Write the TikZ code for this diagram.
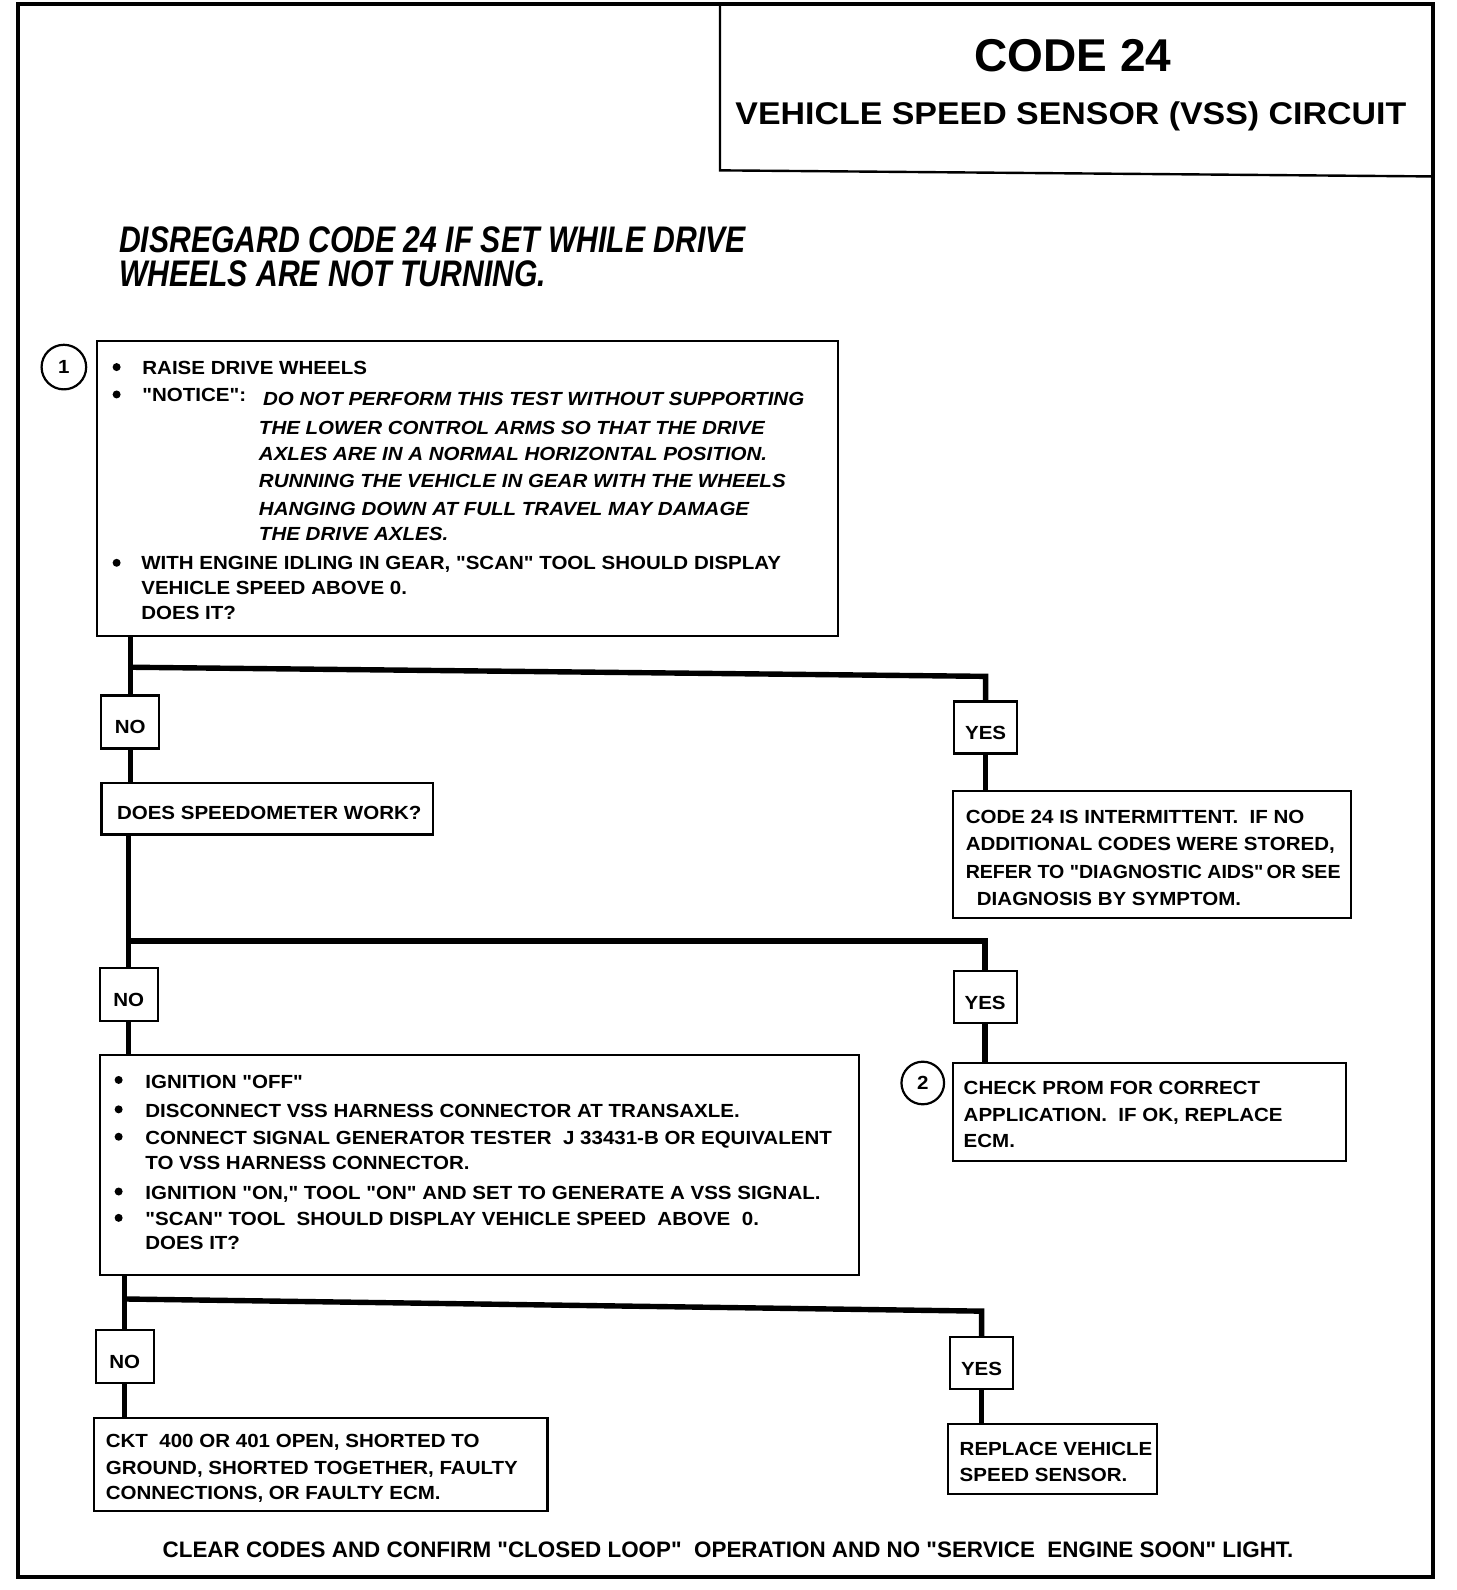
\documentclass[tikz,border=0pt]{standalone}
\usepackage{fontspec}
\setmainfont{Liberation Sans}
\newfontfamily\bodyf[FakeStretch=1.08]{Liberation Sans}
\newfontfamily\bodyn[FakeStretch=1.03]{Liberation Sans}
\newfontfamily\plainf{Liberation Sans}
\newfontfamily\discf[FakeStretch=0.815]{Liberation Sans}
\usetikzlibrary{fit}
\tikzset{
  box/.style={draw, line width=1.1pt, inner sep=0pt},
  yn/.style={draw, line width=1.1pt, inner sep=0pt, text height=11.8pt, text depth=0pt, font=\bodyf\bfseries\fontsize{9.5}{11}\selectfont},
  nobox/.style={yn, minimum width=29pt, minimum height=26.4pt},
  yesbox/.style={yn, minimum width=31.5pt, minimum height=26pt},
  conn/.style={line width=2.7pt, line join=miter},
  txt/.style={anchor=base west, inner sep=0pt, font=\bodyf\bfseries\fontsize{9.5}{11}\selectfont},
  itx/.style={anchor=base west, inner sep=0pt, font=\bodyf\bfseries\itshape\fontsize{9.5}{11}\selectfont},
  num/.style={circle, draw, line width=1.1pt, inner sep=0pt, font=\bodyf\bfseries\fontsize{9.5}{11}\selectfont},
  bul/.style={circle, fill, inner sep=0pt, minimum size=4pt}
}
\begin{document}
\begin{tikzpicture}[x=0.50696pt,y=-0.50696pt]
\useasboundingbox (0,0) rectangle (1436,1568);
% outer frame and title box
\draw[line width=2pt] (18,4) rectangle (1413,1555);
\draw[line width=1.2pt] (710,4) -- (710,168) -- (1413,174);
\node[anchor=base, inner sep=0pt, font=\plainf\bfseries\fontsize{23}{26}\selectfont] (title) at (1058,71) {CODE 24};
\node[anchor=base, inner sep=0pt, font=\bodyf\bfseries\fontsize{15.7}{18}\selectfont] (subtitle) at (1056,123) {VEHICLE SPEED SENSOR (VSS) CIRCUIT};
\node[anchor=base west, inner sep=0pt, font=\discf\bfseries\itshape\fontsize{18.5}{21}\selectfont] (disc1) at (117,249) {DISREGARD CODE 24 IF SET WHILE DRIVE};
\node[anchor=base west, inner sep=0pt, font=\discf\bfseries\itshape\fontsize{18.5}{21}\selectfont] (disc2) at (117,283) {WHEELS ARE NOT TURNING.};

% boxes
\node[box, fit={(96,336) (826,627)}] (b1) {};
\node[num, minimum size=22.3pt] (c1) at (63,362) {1};
\node[nobox] (no1) at (128.5,712) {NO};
\node[yesbox] (yes1) at (972,717.5) {YES};
\node[box, fit={(100,772) (427,823)}] (spd) {};
\node[box, fit={(940,780) (1332,905)}] (r1) {};
\node[nobox] (no2) at (127,981) {NO};
\node[yesbox] (yes2) at (971.5,983.5) {YES};
\node[box, fit={(99,1040) (847,1257)}] (b3) {};
\node[box, fit={(940,1048) (1327,1145)}] (r2) {};
\node[num, minimum size=21.3pt] (c2) at (910,1068) {2};
\node[nobox] (no3) at (123,1337.5) {NO};
\node[yesbox] (yes3) at (968,1344.5) {YES};
\node[box, fit={(93,1398) (540,1490)}] (r3) {};
\node[box, fit={(935,1404) (1141,1473)}] (r4) {};

% connectors
\coordinate (h1l) at (0,658);
\coordinate (h1r) at (0,667);
\coordinate (h2) at (0,928);
\coordinate (h3l) at (0,1281);
\coordinate (h3r) at (0,1293);
\draw[conn] (b1.south -| no1) -- (no1.north);
\draw[conn] (no1 |- h1l) -- (yes1 |- h1r) -- (yes1.north);
\draw[conn] (no1.south) -- (spd.north -| no1);
\draw[conn] (yes1.south) -- (r1.north -| yes1);
\draw[conn] (spd.south -| no2) -- (no2.north);
\draw[conn] (no2 |- h2) -| (yes2.north);
\draw[conn] (no2.south) -- (b3.north -| no2);
\draw[conn] (yes2.south) -- (r2.north -| yes2);
\draw[conn] (b3.south -| no3) -- (no3.north);
\draw[conn] (no3 |- h3l) -- (yes3 |- h3r) -- (yes3.north);
\draw[conn] (no3.south) -- (r3.north -| no3);
\draw[conn] (yes3.south) -- (r4.north -| yes3);

% box 1 text
\node[bul] (p1) at (115,362) {};
\node[txt] (t1a) at (140,369) {RAISE DRIVE WHEELS};
\node[bul] (p2) at (115,389) {};
\node[txt] (t1b) at (140,396) {"NOTICE":};
\node[itx] (t1c) at (259,400) {DO NOT PERFORM THIS TEST WITHOUT SUPPORTING};
\node[itx] (t1d) at (255,428) {THE LOWER CONTROL ARMS SO THAT THE DRIVE};
\node[itx] (t1e) at (255,454) {AXLES ARE IN A NORMAL HORIZONTAL POSITION.};
\node[itx] (t1f) at (255,481) {RUNNING THE VEHICLE IN GEAR WITH THE WHEELS};
\node[itx] (t1g) at (255,508) {HANGING DOWN AT FULL TRAVEL MAY DAMAGE};
\node[itx] (t1h) at (255,533) {THE DRIVE AXLES.};
\node[bul] (p3) at (115,555) {};
\node[txt] (t1i) at (139,562) {WITH ENGINE IDLING IN GEAR, "SCAN" TOOL SHOULD DISPLAY};
\node[txt] (t1j) at (139,586) {VEHICLE SPEED ABOVE 0.};
\node[txt] (t1k) at (139,611) {DOES IT?};

% speedometer
\node[txt] (ts) at (115,808) {DOES SPEEDOMETER WORK?};

% yes1 result
\node[txt] (tr1a) at (952,812) {CODE 24 IS INTERMITTENT.\ \ IF NO};
\node[txt] (tr1b) at (952,839) {ADDITIONAL CODES WERE STORED,};
\node[txt, font=\bodyn\bfseries\fontsize{9.5}{11}\selectfont] (tr1c) at (952,866) {REFER TO "DIAGNOSTIC AIDS"\,OR SEE};
\node[txt] (tr1d) at (963,893) {DIAGNOSIS BY SYMPTOM.};

% box 3 text
\node[bul] (q1) at (117,1065) {};
\node[txt] (t3a) at (143,1073) {IGNITION "OFF"};
\node[bul] (q2) at (117,1094) {};
\node[txt] (t3b) at (143,1102) {DISCONNECT VSS HARNESS CONNECTOR AT TRANSAXLE.};
\node[bul] (q3) at (117,1121) {};
\node[txt] (t3c) at (143,1129) {CONNECT SIGNAL GENERATOR TESTER\ \ J 33431-B OR EQUIVALENT};
\node[txt] (t3d) at (143,1153) {TO VSS HARNESS CONNECTOR.};
\node[bul] (q4) at (117,1175) {};
\node[txt] (t3e) at (143,1183) {IGNITION "ON," TOOL "ON" AND SET TO GENERATE A VSS SIGNAL.};
\node[bul] (q5) at (117,1201) {};
\node[txt] (t3f) at (143,1209) {"SCAN" TOOL\ \ SHOULD DISPLAY VEHICLE SPEED\ \ ABOVE\ \ 0.};
\node[txt] (t3g) at (143,1232) {DOES IT?};

% yes2 result
\node[txt] (tr2a) at (950,1079) {CHECK PROM FOR CORRECT};
\node[txt] (tr2b) at (950,1106) {APPLICATION.\ \ IF OK, REPLACE};
\node[txt] (tr2c) at (950,1132) {ECM.};

% no3 result
\node[txt] (tr3a) at (104,1427) {CKT\ \ 400 OR 401 OPEN, SHORTED TO};
\node[txt] (tr3b) at (104,1454) {GROUND, SHORTED TOGETHER, FAULTY};
\node[txt] (tr3c) at (104,1479) {CONNECTIONS, OR FAULTY ECM.};

% yes3 result
\node[txt] (tr4a) at (946,1435) {REPLACE VEHICLE};
\node[txt] (tr4b) at (946,1461) {SPEED SENSOR.};

% footer
\node[anchor=base west, inner sep=0pt, font=\plainf\bfseries\fontsize{11.2}{13}\selectfont] (foot) at (160,1536) {CLEAR CODES AND CONFIRM "CLOSED LOOP"\ \ OPERATION AND NO "SERVICE\ \ ENGINE SOON" LIGHT.};
\end{tikzpicture}
\end{document}
